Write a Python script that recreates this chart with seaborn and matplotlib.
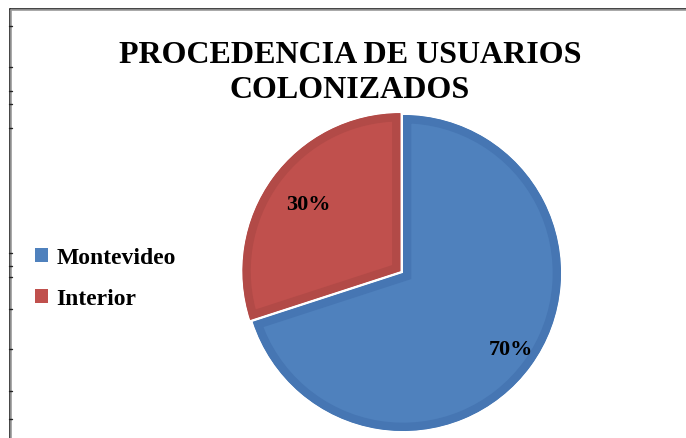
import matplotlib
matplotlib.use("Agg")
import matplotlib.pyplot as plt
from matplotlib.lines import Line2D
import seaborn as sns

title = "PROCEDENCIA DE USUARIOS\nCOLONIZADOS"
categories = ["Montevideo", "Interior"]
values = [70, 30]
labels = ["70%", "30%"]

sns.set_style("white")
plt.rcParams["font.family"] = ["Liberation Serif", "DejaVu Serif"]
plt.rcParams["text.color"] = "black"

main_colors = ["#4F81BD", "#C0504D"]
edge_colors = ["#4676B3", "#B24A47"]

W, H = 686, 439
fig = plt.figure(figsize=(W / 100, H / 100), dpi=100)
fig.patch.set_facecolor("white")

# pie axes: center at (403, 274) px image coords, radius 158 px
R = 158.0
cx, cy = 403, H - 274
half = 200
ax = fig.add_axes([(cx - half) / W, (cy - half) / H, 2 * half / W, 2 * half / H])
lim = half / R

explode = [0.0, 0.02]
wedges, _ = ax.pie(values, colors=main_colors, startangle=90, counterclock=False,
                   explode=explode, radius=1.0,
                   wedgeprops=dict(linewidth=12))
for w, ec in zip(wedges, edge_colors):
    w.set_edgecolor(ec)
    w.set_clip_on(True)
    w.set_clip_path(w)
ax.set_xlim(-lim, lim)
ax.set_ylim(-lim, lim)
ax.set_aspect("equal")
ax.axis("off")

# percentage labels
lab_pos_px = [(511, 350), (308, 205)]
for lab, (px, py) in zip(labels, lab_pos_px):
    ax.text((px - cx) / R, ((H - py) - cy) / R, lab, ha="center", va="center",
            fontsize=16, fontweight="bold", color="black")

# title
fig.text(350 / W, 1 - 73 / H, title, ha="center", va="center",
         fontsize=23, fontweight="bold", linespacing=1.3, color="black")

# legend
handles = [plt.Rectangle((0, 0), 1, 1, facecolor=c, edgecolor="none") for c in main_colors]
leg = fig.legend(handles, categories, loc="center left",
                 bbox_to_anchor=(14 / W, 1 - 279 / H), frameon=False,
                 prop=dict(size=17, weight="bold"), handlelength=0.55,
                 handleheight=0.55, handletextpad=0.35, labelspacing=0.85)
for t in leg.get_texts():
    t.set_color("black")

# border (double line top and left)
def px2f(x, y):
    return x / W, 1 - y / H

for off, col, lw in [(9.5, "#222222", 1.2), (11.0, "#9a9a9a", 1.2)]:
    x0, y0 = px2f(off, off)
    x1, _ = px2f(W, off)
    _, y1 = px2f(off, H)
    fig.add_artist(Line2D([x0, x1], [y0, y0], color=col, lw=lw, transform=fig.transFigure))
    fig.add_artist(Line2D([x0, x0], [y0, y1], color=col, lw=lw, transform=fig.transFigure))

for ty in [27, 68, 92, 105, 129, 254, 267, 278, 310, 350, 392, 420]:
    xa, ya = px2f(9, ty)
    xb, _ = px2f(12, ty)
    fig.add_artist(Line2D([xa, xb], [ya, ya], color="#222222", lw=1.0, transform=fig.transFigure))

fig.savefig("out.png", dpi=100)
